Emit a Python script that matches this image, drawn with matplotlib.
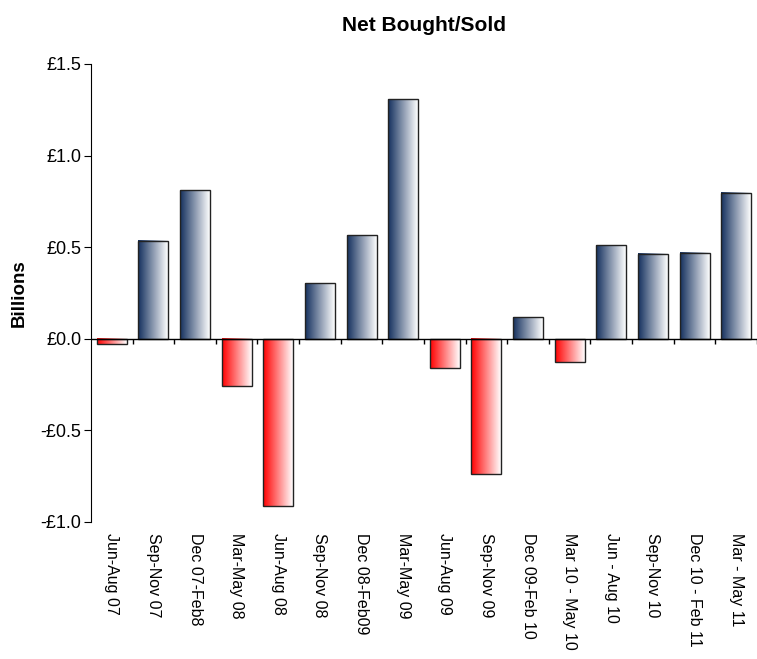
import matplotlib.pyplot as plt
import numpy as np
from matplotlib.colors import LinearSegmentedColormap

plt.rcParams["font.family"] = ["Liberation Sans", "DejaVu Sans"]

periods = [
    "Jun-Aug 07", "Sep-Nov 07", "Dec 07-Feb8", "Mar-May 08", "Jun-Aug 08",
    "Sep-Nov 08", "Dec 08-Feb09", "Mar-May 09", "Jun-Aug 09", "Sep-Nov 09",
    "Dec 09-Feb 10", "Mar 10 - May 10", "Jun - Aug 10", "Sep-Nov 10",
    "Dec 10 - Feb 11", "Mar - May 11",
]
net_billions = [
    -0.03, 0.535, 0.81, -0.26, -0.91, 0.305, 0.567, 1.31,
    -0.158, -0.74, 0.12, -0.125, 0.513, 0.464, 0.47, 0.797,
]
ytick_vals = [-1.0, -0.5, 0.0, 0.5, 1.0, 1.5]
ytick_text = ["-£1.0", "-£0.5", "£0.0", "£0.5", "£1.0", "£1.5"]

blue_cmap = LinearSegmentedColormap.from_list("blue", ["#14305e", "#ffffff"])
red_cmap = LinearSegmentedColormap.from_list("red", ["#ff0000", "#ffffff"])
grad = np.linspace(0, 1, 256).reshape(1, -1)

fig = plt.figure(figsize=(7.57, 6.59), dpi=100)
ax = fig.add_axes([0.1202, 0.2079, 0.8798, 0.695])

x = np.arange(len(periods))
width = 0.72
for xi, v in zip(x, net_billions):
    cmap = blue_cmap if v >= 0 else red_cmap
    ax.imshow(grad, cmap=cmap, aspect="auto", interpolation="bilinear",
              extent=[xi - width / 2, xi + width / 2, min(0, v), max(0, v)],
              zorder=2)
    ax.bar(xi, v, width=width, facecolor="none", edgecolor="#222222",
           linewidth=1.0, zorder=3)

ax.set_xlim(-0.5, len(periods) - 0.5)
ax.set_ylim(-1.0, 1.5)

# zero line with tick marks between categories
ax.axhline(0, color="black", linewidth=1.0, zorder=4)
ax.vlines(np.arange(len(periods)) + 0.5, -0.027, 0, color="black",
          linewidth=1.0, zorder=4)

for s in ["top", "right", "bottom"]:
    ax.spines[s].set_visible(False)

ax.set_yticks(ytick_vals)
ax.set_yticklabels(ytick_text, fontsize=13)
ax.tick_params(axis="y", length=5, direction="out", pad=2)

ax.set_xticks(x)
ax.set_xticklabels(periods, rotation=-90, fontsize=11.5, va="top", ha="center")
ax.tick_params(axis="x", length=0, pad=8)

ax.set_ylabel("Billions", fontsize=13.5, fontweight="bold", labelpad=9)
ax.set_title("Net Bought/Sold", fontsize=15, fontweight="bold", pad=24)

fig.savefig("out.png", dpi=100)
